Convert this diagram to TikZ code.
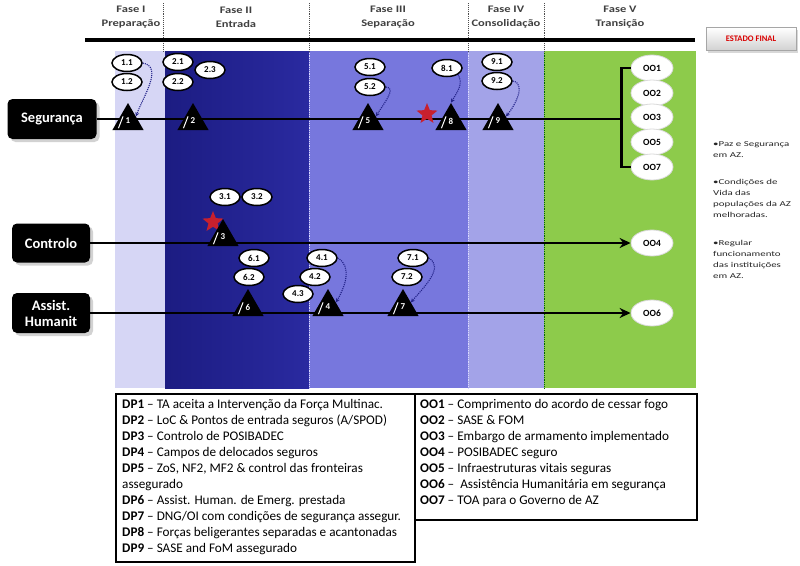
\documentclass[tikz,border=0pt]{standalone}
\usepackage{fontspec}
\setmainfont{Carlito}
\newfontfamily\notefont{Carlito}[FakeStretch=1.45]
\newfontfamily\hdrfont{Carlito}[FakeStretch=1.25]
\usetikzlibrary{shapes.geometric,arrows.meta,shadows,calc}
\definecolor{bandI}{HTML}{D6D6F5}
\definecolor{bandIIa}{HTML}{1C1C82}
\definecolor{bandIIb}{HTML}{2A2AA0}
\definecolor{bandIII}{HTML}{7777DD}
\definecolor{bandIV}{HTML}{A3A3E8}
\definecolor{bandV}{HTML}{8DCB4B}
\definecolor{starred}{HTML}{C8202E}
\definecolor{dotblue}{HTML}{24248A}
\begin{document}
\begin{tikzpicture}[x=1pt,y=-1pt,
  phase/.style={align=center,font=\hdrfont\bfseries\fontsize{10}{14}\selectfont,text=black!75,inner sep=0},
  hdrdiv/.style={black!70,densely dotted,line width=0.9},
  banddiv/.style={white!85!blue,densely dotted,line width=0.8},
  mainline/.style={line width=2.6,black},
  lanebox/.style={fill=black,rounded corners=5,text=white,font=\bfseries\fontsize{14.5}{16}\selectfont,align=center,inner sep=0,drop shadow={opacity=0.35,shadow xshift=3pt,shadow yshift=-3pt}},
  tri/.style={regular polygon,regular polygon sides=3,fill=black,minimum size=36,inner sep=0,text=white,font=\bfseries\fontsize{9}{9}\selectfont},
  hl/.style={white,line width=1},
  lab/.style={ellipse,draw=black,line width=1.5,fill=white,minimum width=30,minimum height=17,inner sep=0,font=\bfseries\fontsize{9}{9}\selectfont},
  oo/.style={ellipse,draw=black!15,line width=0.8,fill=white,minimum width=42,minimum height=26,inner sep=0,font=\bfseries\fontsize{9.5}{9.5}\selectfont},
  redstar/.style={star,star points=5,star point ratio=2.3,fill=starred,minimum size=22,inner sep=0},
  dotconn/.style={dotblue,densely dotted,line width=1.1,-{Stealth[length=4,width=4]}},
  arrowline/.style={line width=2.6,black,-{Stealth[length=11,width=10]}},
  legbox/.style={draw=black,line width=2,anchor=north west,inner sep=0},
  legtext/.style={anchor=north west,align=left,inner sep=0,font=\fontsize{13.2}{16}\selectfont},
  note/.style={anchor=north west,align=left,inner sep=0,font=\notefont\fontsize{7.5}{11}\selectfont,text=black!85}
]
\useasboundingbox (0,0) rectangle (800,565);
\fill[white] (0,0) rectangle (800,565);

% bands
\fill[bandI] (115,51) rectangle (165,388);
\shade[left color=bandIIa,right color=bandIIb] (165,51) rectangle (309,388);
\fill[bandIII] (309,51) rectangle (468,388);
\fill[bandIV] (468,51) rectangle (544,388);
\fill[bandV] (544,51) rectangle (696,388);
\draw[banddiv] (309,51) -- (309,388);
\draw[banddiv] (468,51) -- (468,388);
\draw[black!60!green,densely dotted,line width=0.8] (544,51) -- (544,388);

% header
\node[phase] (f1) at (131,17) {Fase I\\Preparação};
\node[phase] (f2) at (236,17) {Fase II\\Entrada};
\node[phase] (f3) at (388,17) {Fase III\\Separação};
\node[phase] (f4) at (506,17) {Fase IV\\Consolidação};
\node[phase] (f5) at (620,17) {Fase V\\Transição};
\foreach \xx in {163,309,468,544} \draw[hdrdiv] (\xx,3) -- (\xx,51);
\draw[line width=4.5] (85,40) -- (695,40);

\node[draw=black!35,top color=white,bottom color=black!18,minimum width=90,minimum height=23,inner sep=0,
  text=red!85!black,font=\bfseries\fontsize{8.5}{9}\selectfont,
  drop shadow={opacity=0.3,shadow xshift=2pt,shadow yshift=-2pt}] (ef) at (751,39) {ESTADO FINAL};

% lane boxes
\node[lanebox,minimum width=89,minimum height=40] (seg) at (52,119) {Segurança};
\node[lanebox,minimum width=78,minimum height=39] (ctl) at (51,243) {Controlo};
\node[lanebox,minimum width=78,minimum height=40] (ah) at (51,313) {Assist.\\Humanit};

% OO bubbles
\foreach \nm/\yy in {1/68,2/93,3/117,5/142,7/167} \node[oo] (oo\nm) at (652,\yy) {OO\nm};
\node[oo] (oo4) at (652,243) {OO4};
\node[oo] (oo6) at (652,313) {OO6};

% lines
\draw[mainline] (oo1.west) -- ++(-9,0) coordinate (bt) -- (bt |- oo7.west) -- (oo7.west);
\coordinate (bm) at (bt |- seg.east);
\draw[mainline] (seg.east) -- (bm);
\draw[arrowline] (ctl.east) -- (oo4.west);
\draw[arrowline] (ah.east) -- (oo6.west);

% stars
\node[redstar] (s1) at (427,114) {};
\node[redstar] (s2) at (213,222) {};

% triangles
\foreach \n/\xx/\yy in {1/128/121,2/193/121,5/368/121,8/451/121,9/498/121,3/223/237,6/248/307,4/328/307,7/403/307}{
  \node[tri] (t\n) at (\xx,\yy) {\n};
  \draw[hl] ($(t\n.corner 2)!0.2!(t\n.corner 3)+(0,-2)$) -- ($(t\n.corner 1)!0.5!(t\n.corner 2)+(3,0)$);
}

% labels
\foreach \nm/\xx/\yy/\tx in {11/127/63/1.1,12/127/82/1.2,21/178/62/2.1,22/178/82/2.2,23/210/70/2.3,
  51/370/67/5.1,52/370/87/5.2,81/447/68/8.1,91/497/62/9.1,92/497/81/9.2,
  31/225/197/3.1,32/257/197/3.2,61/254/258/6.1,62/249/277/6.2,
  41/322/258/4.1,42/315/277/4.2,43/298/294/4.3,71/413/258/7.1,72/407/277/7.2}
  \node[lab] (o\nm) at (\xx,\yy) {\tx};

% dotted connectors
\draw[dotconn] (o11.east) to[out=-10,in=70] (t1.side 3);
\draw[dotconn] (o52.east) to[out=0,in=60] (t5.side 3);
\draw[dotconn] (o81.south east) to[out=-60,in=60] (t8.corner 1);
\draw[dotconn] (o92.east) to[out=-10,in=50] (t9.side 3);
\draw[dotconn] (o71.east) to[out=-30,in=50] (t7.side 3);
\draw[dotconn] (o41.east) to[out=-30,in=60] (t4.side 3);

% notes
\node[note] (n1) at (713,141) {•Paz e Segurança\\em AZ.};
\node[note] (n2) at (713,179) {•Condições de\\Vida das\\populações da AZ\\melhoradas.};
\node[note] (n3) at (713,240) {•Regular\\funcionamento\\das instituições\\em AZ.};

% legend
\node[legbox,minimum width=299,minimum height=168] (legl) at (115,393) {};
\node[legbox,minimum width=282,minimum height=126] (legr) at (414,393) {};
\node[legtext] (tl) at ($(legl.north west)+(7,6)$) {%
\textbf{DP1} – TA aceita a Intervenção da Força Multinac.\\
\textbf{DP2} – LoC \& Pontos de entrada seguros (A/SPOD)\\
\textbf{DP3} – Controlo de POSIBADEC\\
\textbf{DP4} – Campos de delocados seguros\\
\textbf{DP5} – ZoS, NF2, MF2 \& control das fronteiras\\
assegurado\\
\textbf{DP6} – Assist. Human. de Emerg. prestada\\
\textbf{DP7} – DNG/OI com condições de segurança assegur.\\
\textbf{DP8} – Forças beligerantes separadas e acantonadas\\
\textbf{DP9} – SASE and FoM assegurado};
\node[legtext] (tr) at ($(legr.north west)+(6,6)$) {%
\textbf{OO1} – Comprimento do acordo de cessar fogo\\
\textbf{OO2} – SASE \& FOM\\
\textbf{OO3} – Embargo de armamento implementado\\
\textbf{OO4} – POSIBADEC seguro\\
\textbf{OO5} – Infraestruturas vitais seguras\\
\textbf{OO6} – \ Assistência Humanitária em segurança\\
\textbf{OO7} – TOA para o Governo de AZ};
\end{tikzpicture}
\end{document}
